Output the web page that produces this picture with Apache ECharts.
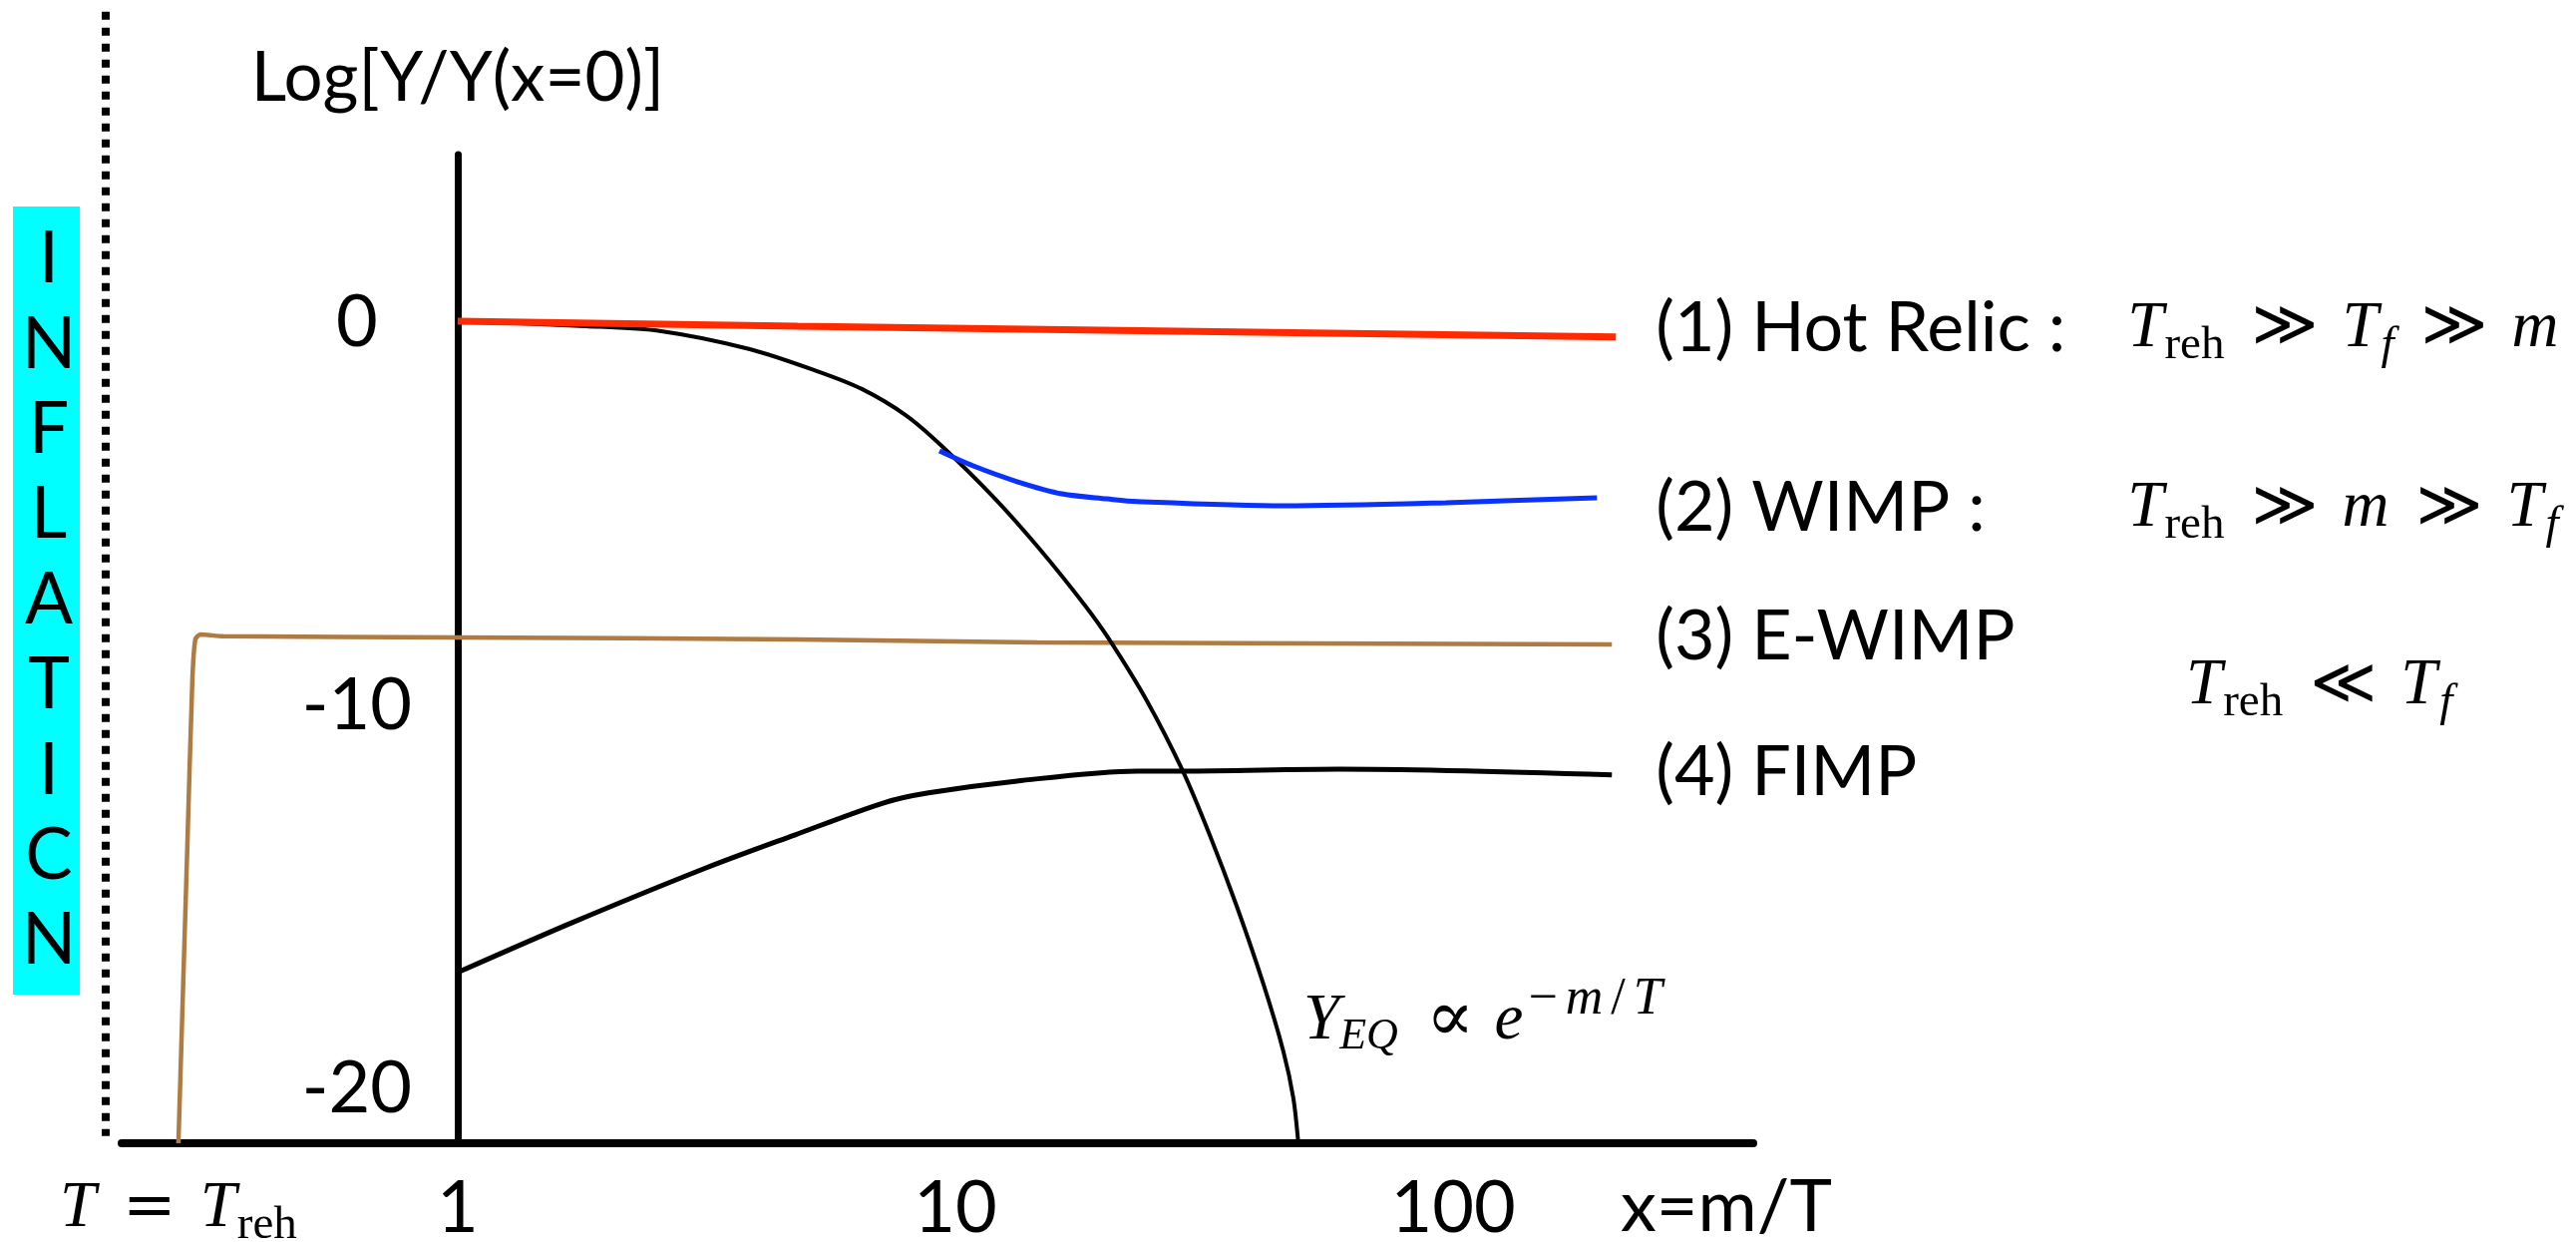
<!DOCTYPE html>
<html><head><meta charset="utf-8">
<script src="https://cdn.jsdelivr.net/npm/echarts@6/dist/echarts.min.js"></script>
<style>html,body{margin:0;padding:0;background:#fff}#c{width:2583px;height:1245px}</style>
</head><body><div id="c"></div>
<script>
// Schematic axes: x in log10(m/T) units, y = Log[Y/Y(x=0)]
const reheatX = -0.561;
const inflationEndX = -0.707;
const xTickValues = [reheatX, 0, 1, 2];
const xTickLabels = ['{it|T}{op|=}{it|T}{sub|reh}', '1', '10', '100'];
const yTickValues = [0, -10, -20];
const yTickLabels = ['0', '-10', '-20'];

const inflationBoundary = [[inflationEndX, 8.13], [inflationEndX, -21.23]];
const hotRelic = [[0, 0.05], [0.683, -0.08], [2.327, -0.36]];
const wimp = [[0.968, -3.34], [1.036, -3.73], [1.124, -4.14], [1.214, -4.46], [1.305, -4.59], [1.365, -4.66], [1.661, -4.77], [1.986, -4.69], [2.289, -4.56]];
const eWimp = [[reheatX, -21.42], [-0.543, -13.63], [-0.533, -9.33], [-0.527, -8.26], [-0.517, -8.13], [-0.471, -8.18], [0, -8.21], [0.683, -8.26], [1.164, -8.34], [2.319, -8.39]];
const fimp = [[0, -16.96], [0.230, -15.66], [0.499, -14.23], [0.677, -13.37], [0.856, -12.53], [0.946, -12.27], [1.124, -11.96], [1.365, -11.70], [1.457, -11.70], [1.770, -11.65], [2.319, -11.80]];
const equilibrium = [[0, 0.05], [0.257, -0.08], [0.409, -0.21], [0.587, -0.68], [0.721, -1.25], [0.812, -1.72], [0.902, -2.42], [0.972, -3.20], [1.080, -4.59], [1.170, -5.91], [1.259, -7.35], [1.309, -8.26], [1.385, -9.87], [1.457, -11.70], [1.511, -13.37], [1.565, -15.22], [1.619, -17.27], [1.659, -19.02], [1.679, -20.24], [1.689, -21.42]];

const seriesLabels = {
  'Hot Relic': '{lab|(1) Hot Relic :}{it|T}{sub|reh}{op|≫}{it|T}{subi|f}{op|≫}{it|m}',
  'WIMP': '{lab|(2) WIMP :}{it|T}{sub|reh}{op|≫}{it|m}{op|≫}{it|T}{subi|f}',
  'E-WIMP': '(3) E-WIMP',
  'FIMP': '(4) FIMP'
};
const eWimpCondition = '{it|T}{sub|reh}{op|≪}{it|T}{subi|f}';
const eqLabel = '{it|Y}{subeq|EQ}{prop|∝}{it|e}{sup|−}{supi|m}{sup|/}{supi|T}';
const xName = 'x=m/T';
const yName = 'Log[Y/Y(x=0)]';
const inflationText = 'I\nN\nF\nL\nA\nT\nI\nC\nN';

const SANS = 'Lato';
const SERIF = "'Liberation Serif'";
const OPF = "'DejaVu Serif','DejaVu Sans'";
const LH = 80;
const richMath = {
  lab: {fontFamily: SANS, fontSize: 70, color: '#000', lineHeight: LH, width: 473},
  it: {fontFamily: SERIF, fontStyle: 'italic', fontSize: 65, color: '#000', lineHeight: LH},
  sub: {fontFamily: SERIF, fontSize: 47, color: '#000', lineHeight: LH, padding: [34, 0, 0, 1]},
  subi: {fontFamily: SERIF, fontStyle: 'italic', fontSize: 47, color: '#000', lineHeight: LH, padding: [34, 0, 0, 3]},
  op: {fontFamily: OPF, fontSize: 64, color: '#000', lineHeight: LH, padding: [0, 24, 0, 27]},
  subeq: {fontFamily: SERIF, fontStyle: 'italic', fontSize: 44, color: '#000', lineHeight: LH, padding: [30, 0, 0, 0]},
  prop: {fontFamily: OPF, fontSize: 72, color: '#000', lineHeight: LH, padding: [0, 20, 0, 28]},
  sup: {fontFamily: SERIF, fontSize: 52, color: '#000', lineHeight: LH, padding: [0, 5, 44, 5]},
  supi: {fontFamily: SERIF, fontStyle: 'italic', fontSize: 52, color: '#000', lineHeight: LH, padding: [0, 3, 44, 3]},
  xname: {fontFamily: SANS, fontSize: 72, color: '#000', lineHeight: LH, padding: [130, 0, 0, 0]}
};
function zrRich(r) {
  const out = {};
  Object.keys(r).forEach(k => { const s = Object.assign({}, r[k]); s.fill = s.color; delete s.color; out[k] = s; });
  return out;
}

function endLabel(name, distance, dy) {
  return {
    show: true, distance: distance, offset: [0, dy],
    color: '#000', fontFamily: SANS, fontSize: 70, lineHeight: LH,
    formatter: () => seriesLabels[name], rich: richMath
  };
}

const chart = echarts.init(document.getElementById('c'), null, {renderer: 'canvas'});
chart.setOption({
  animation: false,
  backgroundColor: '#fff',
  grid: {left: 122, right: 825, top: 155, bottom: 99, containLabel: false, outerBoundsMode: 'none'},
  xAxis: {
    type: 'value', min: -0.675, max: 2.603,
    axisLine: {show: true, onZero: false, lineStyle: {color: '#000', width: 8}},
    axisTick: {show: false}, splitLine: {show: false},
    axisLabel: {
      customValues: xTickValues,
      formatter: v => { const i = xTickValues.indexOf(v); return i < 0 ? '' : xTickLabels[i]; },
      fontFamily: SANS, fontSize: 72, color: '#000', margin: 26, lineHeight: LH, rich: richMath
    },
    name: '{xname|' + xName + '}', nameLocation: 'end', nameGap: -133,
    nameTextStyle: {fontFamily: SANS, fontSize: 72, color: '#000', lineHeight: LH, rich: richMath}
  },
  yAxis: {
    type: 'value', min: -21.42, max: 4.40,
    axisLine: {show: true, onZero: true, lineStyle: {color: '#000', width: 7}},
    axisTick: {show: false}, splitLine: {show: false},
    axisLabel: {
      customValues: yTickValues,
      formatter: v => { const i = yTickValues.indexOf(v); return i < 0 ? '' : yTickLabels[i]; },
      fontFamily: SANS, fontSize: 72, color: '#000', margin: -236, align: 'center'
    },
    name: yName, nameLocation: 'end', nameGap: 42,
    nameTextStyle: {fontFamily: SANS, fontSize: 69, color: '#000'}
  },
  series: [
    {name: 'E-WIMP', type: 'line', data: eWimp, symbol: 'none', smooth: 0.2,
     lineStyle: {color: '#AE7B43', width: 4.5}, endLabel: endLabel('E-WIMP', 44, -7)},
    {name: 'FIMP', type: 'line', data: fimp, symbol: 'none', smooth: 0.3,
     lineStyle: {color: '#000', width: 5}, endLabel: endLabel('FIMP', 44, -2)},
    {name: 'Equilibrium', type: 'line', data: equilibrium, symbol: 'none', smooth: 0.3,
     lineStyle: {color: '#000', width: 4}},
    {name: 'WIMP', type: 'line', data: wimp, symbol: 'none', smooth: 0.3,
     lineStyle: {color: '#0A32FF', width: 5}, endLabel: endLabel('WIMP', 59, 11)},
    {name: 'Hot Relic', type: 'line', data: hotRelic, symbol: 'none',
     lineStyle: {color: '#FF2A00', width: 7}, endLabel: endLabel('Hot Relic', 40, -8)}
  ]
});

// Inflation boundary: placed through the chart's own coordinate conversion
const pTop = chart.convertToPixel({gridIndex: 0}, inflationBoundary[0]);
const pBot = chart.convertToPixel({gridIndex: 0}, inflationBoundary[1]);
chart.setOption({
  graphic: [
    {type: 'line', shape: {x1: pTop[0], y1: pTop[1], x2: pBot[0], y2: pBot[1]},
     style: {stroke: '#000', lineWidth: 8, lineDash: [8, 8], lineCap: 'butt'}, z: 3},
    {type: 'rect', shape: {x: 13, y: 207, width: 67, height: 790}, style: {fill: '#00FFFF'}, z: 1},
    {type: 'text', x: 49, y: 602, z: 2,
     style: {text: inflationText, fontFamily: SANS, fontSize: 71, lineHeight: 85.4,
             align: 'center', verticalAlign: 'middle', fill: '#000'}},
    {type: 'text', x: 2192, y: 688, z: 2,
     style: {text: eWimpCondition, rich: zrRich(richMath), align: 'left', verticalAlign: 'middle', fill: '#000', lineHeight: LH}},
    {type: 'text', x: 1307, y: 1024, z: 2,
     style: {text: eqLabel, rich: zrRich(richMath), align: 'left', verticalAlign: 'middle', fill: '#000', lineHeight: LH}}
  ]
});
</script>
</body></html>
